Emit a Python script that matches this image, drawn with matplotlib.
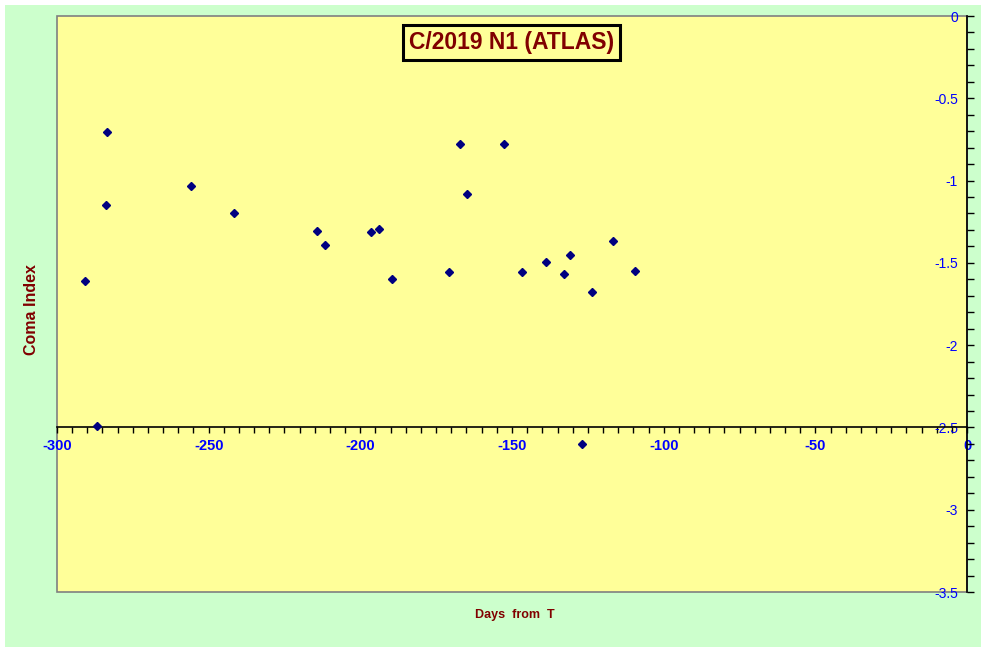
import matplotlib.pyplot as plt
from matplotlib.patches import Rectangle
from matplotlib.ticker import MultipleLocator

plt.rcParams['font.family'] = ['Liberation Sans', 'DejaVu Sans']

# days from perihelion and coma index
days = [-290.8, -286.8, -283.5, -283.8, -255.8, -241.6, -214.3, -211.6,
        -196.5, -193.8, -189.5, -170.7, -167.1, -164.8, -152.6, -146.6,
        -138.7, -132.8, -130.8, -126.8, -123.5, -116.6, -109.6]
coma_index = [-1.61, -2.49, -0.705, -1.15, -1.035, -1.20, -1.305, -1.39,
              -1.31, -1.295, -1.60, -1.555, -0.775, -1.08, -0.775, -1.555,
              -1.495, -1.57, -1.45, -2.60, -1.68, -1.365, -1.55]

W, H = 985, 650
fig = plt.figure(figsize=(W / 100, H / 100), dpi=100, facecolor='white')
fig.patches.append(Rectangle((5 / W, 3 / H), 976 / W, 642 / H, transform=fig.transFigure,
                             facecolor='#CCFFCC', edgecolor='none', zorder=-10))

ax = fig.add_axes([57 / W, 58 / H, 910 / W, 576 / H])
ax.set_facecolor('#FFFF99')
ax.patch.set_edgecolor('#808080')
ax.patch.set_linewidth(1.2)

ax.plot(days, coma_index, linestyle='none', marker='D', markersize=4.2,
        color='#000080', clip_on=False, zorder=5)

ax.set_xlim(-300, 0)
ax.set_ylim(-3.5, 0)

for s in ['left', 'top']:
    ax.spines[s].set_visible(False)
ax.spines['bottom'].set_position(('data', -2.5))
ax.spines['bottom'].set_color('black')
ax.spines['right'].set_color('black')
ax.spines['right'].set_linewidth(1.2)
ax.spines['bottom'].set_linewidth(1.2)

ax.xaxis.set_major_locator(MultipleLocator(50))
ax.xaxis.set_minor_locator(MultipleLocator(5))
ax.yaxis.set_major_locator(MultipleLocator(0.5))
ax.yaxis.set_minor_locator(MultipleLocator(0.1))

ax.tick_params(axis='x', which='both', direction='out', length=4, width=1, color='black',
               labelsize=10.5, labelcolor='#0000FF', pad=4)
ax.yaxis.tick_right()
ax.tick_params(axis='y', which='both', direction='out', length=5, width=1, color='black')
ax.tick_params(axis='y', which='major', labelsize=10, labelcolor='#0000FF', pad=-11.5)

ax.set_xticks(range(-300, 1, 50))
ax.set_xticklabels([str(v) for v in range(-300, 1, 50)], fontweight='bold')
yt = [0, -0.5, -1, -1.5, -2, -2.5, -3, -3.5]
ax.set_yticks(yt)
ax.set_yticklabels(['0', '-0.5', '-1', '-1.5', '-2', '-2.5', '-3', '-3.5'])
plt.setp(ax.get_yticklabels(), ha='right')

ax.text(0.4995, 0.954, 'C/2019 N1 (ATLAS)', transform=ax.transAxes, ha='center', va='center',
        fontsize=16.5, fontweight='bold', color='#800000',
        bbox=dict(boxstyle='square,pad=0.25', facecolor='#FFFF99', edgecolor='black', linewidth=2.2))

fig.text(32 / W, 1 - 310 / H, 'Coma Index', rotation=90, ha='center', va='center',
         fontsize=11.5, fontweight='bold', color='#800000')
fig.text(515 / W, 1 - 615 / H, 'Days  from  T', ha='center', va='center',
         fontsize=9, fontweight='bold', color='#800000')

fig.savefig('out.png', dpi=100, facecolor=fig.get_facecolor())
